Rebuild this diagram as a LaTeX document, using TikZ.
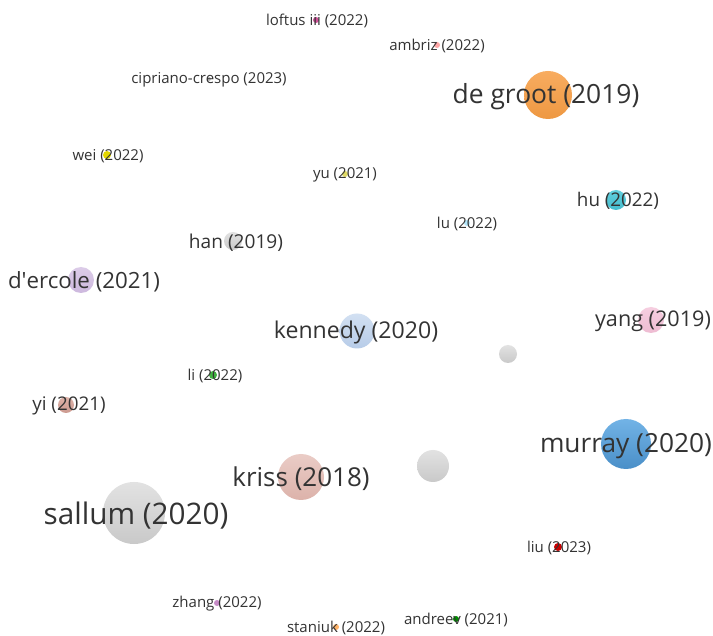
\documentclass[tikz,border=0pt]{standalone}
\usepackage{fontspec}
\setmainfont{Open Sans}
% bubble colours, top and bottom of each gradient
\definecolor{grootT}{HTML}{F8AC60}\definecolor{grootB}{HTML}{EE9842}
\definecolor{murrayT}{HTML}{72B3E6}\definecolor{murrayB}{HTML}{4A8FC8}
\definecolor{grayT}{HTML}{E2E2E2}\definecolor{grayB}{HTML}{C9C9C9}
\definecolor{krissT}{HTML}{EACCC6}\definecolor{krissB}{HTML}{DCB2AA}
\definecolor{kennT}{HTML}{D2E0F2}\definecolor{kennB}{HTML}{B7CCE8}
\definecolor{yangT}{HTML}{F6CEE0}\definecolor{yangB}{HTML}{EEBCD2}
\definecolor{huT}{HTML}{62D0DE}\definecolor{huB}{HTML}{45BCCD}
\definecolor{dercT}{HTML}{DCCCE8}\definecolor{dercB}{HTML}{CDB8DE}
\definecolor{yiT}{HTML}{DDB2A8}\definecolor{yiB}{HTML}{CC9A90}
\definecolor{txt}{HTML}{333333}
\begin{document}
\begin{tikzpicture}[x=1pt,y=-1pt,
  bub/.style={circle, inner sep=0pt, minimum size=#1},
  shadecol/.style 2 args={top color=#1, bottom color=#2},
  lab/.style={text=txt, inner sep=0pt, anchor=center, yshift=-0.07*#1pt,
              font=\fontsize{#1}{#1}\selectfont},
  lab/.default=15]
\useasboundingbox (0,0) rectangle (713,636);
\fill[white] (0,0) rectangle (713,636);

% ---------- bubbles (diameter ~ weight) ----------
\node[bub=48, shadecol={grootT}{grootB}]   (groot)    at (548,95)  {};
\node[bub=50, shadecol={murrayT}{murrayB}] (murray)   at (626,444) {};
\node[bub=62, shadecol={grayT}{grayB}]     (sallum)   at (134,513) {};
\node[bub=46, shadecol={krissT}{krissB}]   (kriss)    at (301,477) {};
\node[bub=35, shadecol={kennT}{kennB}]     (kennedy)  at (357,331) {};
\node[bub=32, shadecol={grayT}{grayB}]     (grayA)    at (433,466) {};
\node[bub=18, shadecol={grayT}{grayB}]     (grayB)    at (508,354) {};
\node[bub=26, shadecol={yangT}{yangB}]     (yang)     at (651,320) {};
\node[bub=20, shadecol={huT}{huB}]         (hu)       at (616,200) {};
\node[bub=26, shadecol={dercT}{dercB}]     (dercole)  at (81,280)  {};
\node[bub=18, shadecol={grayT}{grayB}]     (han)      at (233,241) {};
\node[bub=16, shadecol={yiT}{yiB}]         (yi)       at (66,405)  {};
\node[bub=8,  fill=green!60!black!75]      (li)       at (213,375) {};
\node[bub=6,  fill=cyan!30!white]          (lu)       at (467,223) {};
\node[bub=6,  fill=yellow!50!olive!55!white] (yu)     at (345,174) {};
\node[bub=8,  fill=yellow!75!olive]        (wei)      at (107,155) {};
\node[bub=4,  fill=black!25]               (cipriano) at (209,79)  {};
\node[bub=6,  fill=magenta!55!violet!80]   (loftus)   at (316,20)  {};
\node[bub=6,  fill=red!35!white]           (ambriz)   at (437,45)  {};
\node[bub=8,  fill=red!80!black]           (liu)      at (558,547) {};
\node[bub=6,  fill=violet!45!white]        (zhang)    at (217,603) {};
\node[bub=6,  fill=orange!60!white]        (staniuk)  at (336,627) {};
\node[bub=6,  fill=green!55!black]         (andreev)  at (456,619) {};

% ---------- labels, centred on their bubbles ----------
\node[lab=26.4] (tgroot)    at ([xshift=-2pt]groot)    {de groot (2019)};
\node[lab=26.3] (tmurray)   at (murray)                {murray (2020)};
\node[lab=29.7] (tsallum)   at ([xshift=2pt]sallum)    {sallum (2020)};
\node[lab=26]   (tkriss)    at (kriss)                 {kriss (2018)};
\node[lab=23.1] (tkennedy)  at ([xshift=-1pt]kennedy)  {kennedy (2020)};
\node[lab=21.6] (tyang)     at ([xshift=2pt]yang)      {yang (2019)};
\node[lab=18.8] (thu)       at ([xshift=2pt]hu)        {hu (2022)};
\node[lab=22.3] (tdercole)  at ([xshift=3pt]dercole)   {d\textquotesingle ercole (2021)};
\node[lab=19.1] (than)      at ([xshift=3pt]han)       {han (2019)};
\node[lab=18.8] (tyi)       at ([xshift=3pt]yi)        {yi (2021)};
\node[lab]      (tli)       at ([xshift=2pt]li)        {li (2022)};
\node[lab]      (tlu)       at (lu)                    {lu (2022)};
\node[lab]      (tyu)       at (yu)                    {yu (2021)};
\node[lab]      (twei)      at ([xshift=1pt]wei)       {wei (2022)};
\node[lab]      (tcipriano) at (cipriano)              {cipriano-crespo (2023)};
\node[lab]      (tloftus)   at ([xshift=1pt]loftus)    {loftus iii (2022)};
\node[lab]      (tambriz)   at (ambriz)                {ambriz (2022)};
\node[lab]      (tliu)      at ([xshift=1pt]liu)       {liu (2023)};
\node[lab]      (tzhang)    at (zhang)                 {zhang (2022)};
\node[lab]      (tstaniuk)  at (staniuk)               {staniuk (2022)};
\node[lab]      (tandreev)  at (andreev)               {andreev (2021)};
\end{tikzpicture}
\end{document}
